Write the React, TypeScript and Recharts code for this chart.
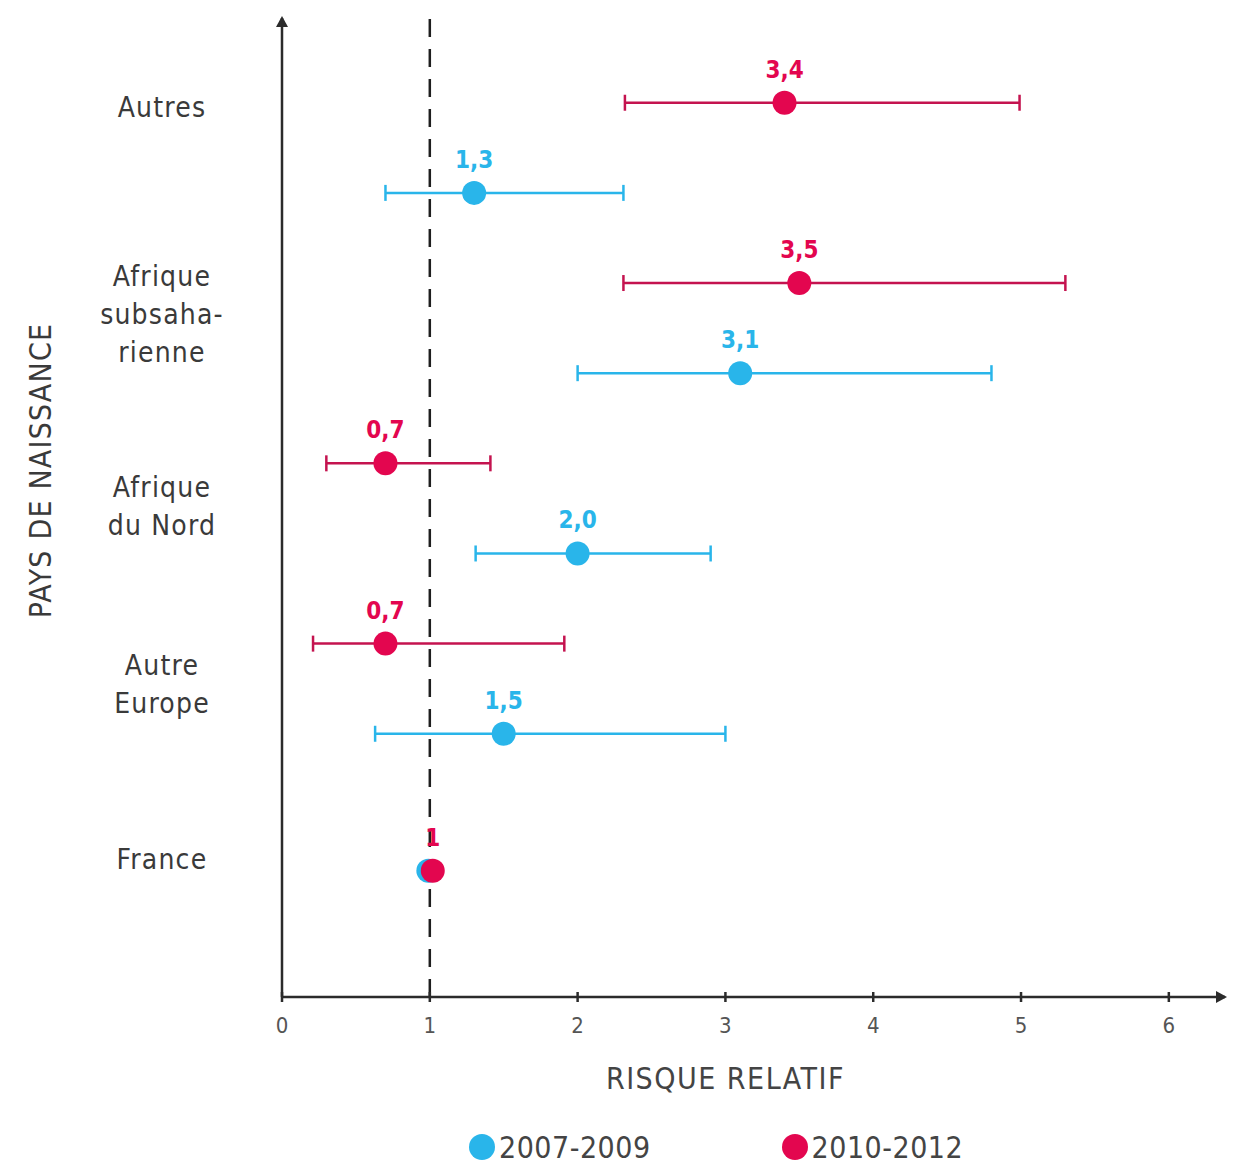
import {
  ScatterChart,
  Scatter,
  XAxis,
  YAxis,
  ErrorBar,
  LabelList,
  ReferenceLine,
  ReferenceDot,
} from "recharts";

// Country of birth, top to bottom. The last one is the reference group.
const regions = ["Autres", "Afrique subsaharienne", "Afrique du Nord", "Autre Europe", "France"];
const regionLines = [
  ["Autres"],
  ["Afrique", "subsaha-", "rienne"],
  ["Afrique", "du Nord"],
  ["Autre", "Europe"],
  ["France"],
];

// Relative risk + 95% CI, 2007-2009
const rr2007 = [1.3, 3.1, 2.0, 1.5, 0.99];
const low2007 = [0.7, 2.0, 1.31, 0.63, 0.99];
const high2007 = [2.31, 4.8, 2.9, 3.0, 0.99];
const labels2007 = ["1,3", "3,1", "2,0", "1,5", ""];

// Relative risk + 95% CI, 2010-2012
const rr2010 = [3.4, 3.5, 0.7, 0.7, 1.02];
const low2010 = [2.32, 2.31, 0.3, 0.21, 1.02];
const high2010 = [4.99, 5.3, 1.41, 1.91, 1.02];
const labels2010 = ["3,4", "3,5", "0,7", "0,7", "1"];

const xTicks = [0, 1, 2, 3, 4, 5, 6];
const seriesNames = ["2007-2009", "2010-2012"];

// ---- layout ----
const BLUE = "#29b5ea";
const RED = "#e3064f";
const RED_LINE = "#c4134f";
const AXIS = "#2b2b2b";
const FONT = "'DejaVu Sans Condensed', 'DejaVu Sans', sans-serif";
const X_MAX = 6.38;
const Y_MAX = 10.86;
const ROW0 = -0.08;
const REF_ROW = 1.4;
const labelRows = [9.87, 7.57, 5.44, 3.47, 1.53];

function rowOf(i: number, second: boolean) {
  if (i === regions.length - 1) return REF_ROW;
  return ROW0 + (second ? 10 : 9) - 2 * i;
}

const data2007 = regions.map((r, i) => ({
  name: r,
  x: rr2007[i],
  y: rowOf(i, false),
  err: [rr2007[i] - low2007[i], high2007[i] - rr2007[i]],
  label: labels2007[i],
}));

const data2010 = regions.map((r, i) => ({
  name: r,
  x: rr2010[i],
  y: rowOf(i, true),
  err: [rr2010[i] - low2010[i], high2010[i] - rr2010[i]],
  label: labels2010[i],
}));

function RegionTick(props: any) {
  const { y, index } = props;
  const lines = regionLines[index] || [];
  const lh = 38;
  return (
    <g>
      {lines.map((l, k) => (
        <text
          key={k}
          x={154}
          y={y + (k - (lines.length - 1) / 2) * lh}
          textAnchor="middle"
          dominantBaseline="central"
          fill="#3a3a3a"
          fontSize={28}
          letterSpacing={1.2}
          fontFamily={FONT}
        >
          {l}
        </text>
      ))}
    </g>
  );
}

function XTick(props: any) {
  const { x, y, payload } = props;
  return (
    <g>
      <line x1={x} x2={x} y1={y - 5} y2={y + 5} stroke={AXIS} strokeWidth={2.5} />
      <text
        x={x}
        y={y + 28}
        textAnchor="middle"
        dominantBaseline="central"
        fill="#555"
        fontSize={22}
        fontFamily={FONT}
      >
        {payload.value}
      </text>
    </g>
  );
}

function valueLabel(color: string) {
  return (props: any) => {
    const { x, y, width, height, value } = props;
    if (!value) return null;
    return (
      <text
        x={x + width / 2}
        y={y + height / 2 - 33}
        textAnchor="middle"
        dominantBaseline="central"
        fill={color}
        fontSize={24}
        fontWeight="bold"
        fontFamily={FONT}
      >
        {value}
      </text>
    );
  };
}

function dot(color: string) {
  return (p: any) => <circle cx={p.cx} cy={p.cy} r={12} fill={color} />;
}

const upArrow = (p: any) => (
  <path d={`M${p.cx - 6},${p.cy + 9} L${p.cx},${p.cy - 2} L${p.cx + 6},${p.cy + 9} Z`} fill={AXIS} />
);
const rightArrow = (p: any) => (
  <path d={`M${p.cx - 9},${p.cy - 6} L${p.cx + 2},${p.cy} L${p.cx - 9},${p.cy + 6} Z`} fill={AXIS} />
);

export default function App() {
  return (
    <div style={{ width: 1220, fontFamily: FONT }}>
      <ScatterChart width={1220} height={1110} margin={{ top: 10, right: 3, bottom: 21, left: 0 }}>
        <XAxis
          type="number"
          dataKey="x"
          domain={[0, X_MAX]}
          ticks={xTicks}
          interval={0}
          height={100}
          tickSize={0}
          tickMargin={0}
          tickLine={false}
          axisLine={{ stroke: AXIS, strokeWidth: 2.5 }}
          tick={<XTick />}
          label={(props: any) => {
            const vb = props.viewBox;
            return (
              <text
                x={vb.x + ((6 / X_MAX) * vb.width) / 2}
                y={vb.y + 81}
                textAnchor="middle"
                dominantBaseline="central"
                fill="#444"
                fontSize={30}
                letterSpacing={1.5}
                fontFamily={FONT}
              >
                RISQUE RELATIF
              </text>
            );
          }}
        />
        <YAxis
          type="number"
          dataKey="y"
          domain={[0, Y_MAX]}
          allowDataOverflow
          ticks={labelRows}
          interval={0}
          width={274}
          tickSize={0}
          tickLine={false}
          axisLine={{ stroke: AXIS, strokeWidth: 2.5 }}
          tick={<RegionTick />}
          label={(props: any) => {
            const vb = props.viewBox;
            const cx = vb.x + 32;
            const cy = vb.y + vb.height / 2 - 37;
            return (
              <text
                x={cx}
                y={cy}
                transform={`rotate(-90 ${cx} ${cy})`}
                textAnchor="middle"
                dominantBaseline="central"
                fill="#3a3a3a"
                fontSize={30}
                letterSpacing={1.2}
                fontFamily={FONT}
              >
                PAYS DE NAISSANCE
              </text>
            );
          }}
        />
        <ReferenceLine x={1} stroke="#1e1e1e" strokeWidth={2.5} strokeDasharray="18 12" />
        <ReferenceDot x={0} y={Y_MAX} shape={upArrow} />
        <ReferenceDot x={X_MAX} y={0} shape={rightArrow} />
        <Scatter name={seriesNames[0]} data={data2007} fill={BLUE} shape={dot(BLUE)} isAnimationActive={false}>
          <ErrorBar dataKey="err" direction="x" width={8} stroke={BLUE} strokeWidth={2.5} />
          <LabelList dataKey="label" content={valueLabel(BLUE)} />
        </Scatter>
        <Scatter name={seriesNames[1]} data={data2010} fill={RED} shape={dot(RED)} isAnimationActive={false}>
          <ErrorBar dataKey="err" direction="x" width={8} stroke={RED_LINE} strokeWidth={2.5} />
          <LabelList dataKey="label" content={valueLabel(RED)} />
        </Scatter>
      </ScatterChart>
      <div style={{ display: "flex", alignItems: "center", height: 58, paddingLeft: 461 }}>
        {seriesNames.map((n, i) => (
          <div
            key={n}
            style={{ display: "flex", alignItems: "center", marginRight: i === 0 ? 131 : 0 }}
          >
            <span
              style={{
                width: 26,
                height: 26,
                borderRadius: "50%",
                background: i === 0 ? BLUE : RED,
                display: "inline-block",
                marginRight: 4,
              }}
            />
            <span style={{ fontSize: 30, letterSpacing: 0.5, color: "#444" }}>{n}</span>
          </div>
        ))}
      </div>
    </div>
  );
}
